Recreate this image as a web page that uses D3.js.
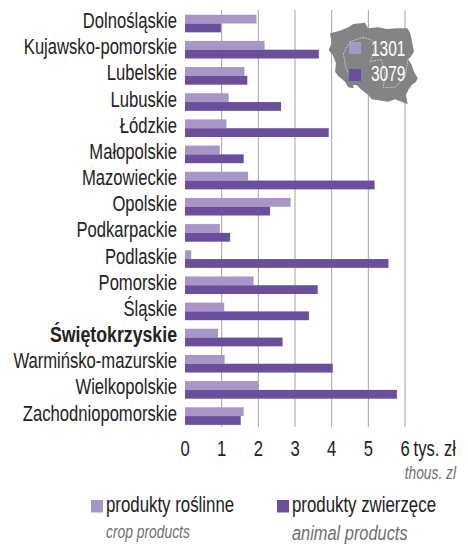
<!DOCTYPE html>
<html lang="pl">
<head>
<meta charset="UTF-8">
<title>Produkty rolne</title>
<script src="https://d3js.org/d3.v7.min.js"></script>
<style>
    body{ margin:0; background:#fff; }
    svg text{ font-family:"Liberation Sans",sans-serif; }
</style>
</head>
<body>
<svg id="chart" width="468" height="544"></svg>
<script>
const regions=['Dolnośląskie','Kujawsko-pomorskie','Lubelskie','Lubuskie','Łódzkie','Małopolskie','Mazowieckie','Opolskie','Podkarpackie','Podlaskie','Pomorskie','Śląskie','Świętokrzyskie','Warmińsko-mazurskie','Wielkopolskie','Zachodniopomorskie'];
const crop=[1.95,2.17,1.62,1.19,1.13,0.95,1.72,2.88,0.95,0.17,1.87,1.07,0.9,1.08,2.0,1.6];
const animal=[0.98,3.65,1.7,2.62,3.92,1.6,5.17,2.32,1.23,5.55,3.62,3.38,2.66,4.03,5.78,1.52];
const xTicks=[0,1,2,3,4,5,6];
const mapValues=['1301','3079'];

const light='#a897c6', dark='#6b4e9e', ink='#222', grey='#6f6f6f';
const svg=d3.select('#chart');

const x=d3.scaleLinear().domain([0,6]).range([185,405]);
const y=d3.scaleBand().domain(regions).range([10.8,428.8]).paddingInner(0.327).paddingOuter(0.15);

// no condensed font is installed, so squeeze the text horizontally
function label(parent,tx,ty,size,squeeze,anchor,fill,str){
    return parent.append('text')
        .attr('transform','translate('+tx+','+ty+') scale('+squeeze+',1)')
        .attr('text-anchor',anchor).attr('font-size',size).attr('fill',fill).text(str);
}

// grid
svg.append('g').selectAll('line').data(xTicks.slice(1)).enter().append('line')
    .attr('x1',d=>x(d)).attr('x2',d=>x(d)).attr('y1',10).attr('y2',427)
    .attr('stroke','#a3a3a3').attr('stroke-width',1);

// bars
const rows=svg.append('g').selectAll('g').data(regions).enter().append('g');
rows.append('rect').attr('x',x(0)).attr('y',d=>y(d))
    .attr('width',(d,i)=>x(crop[i])-x(0)).attr('height',y.bandwidth()/2).attr('fill',light);
rows.append('rect').attr('x',x(0)).attr('y',d=>y(d)+y.bandwidth()/2)
    .attr('width',(d,i)=>x(animal[i])-x(0)).attr('height',y.bandwidth()/2).attr('fill',dark);
rows.each(function(d){
    const bold=d==='Świętokrzyskie';
    label(d3.select(this),177,y(d)+y.bandwidth()/2+4.5,22,bold?0.806:0.755,'end',ink,d)
        .attr('font-weight',bold?'bold':'normal');
});

// axis labels
xTicks.forEach(d=>label(svg,x(d),456,22,0.755,'middle',ink,d));
label(svg,456,456,22,0.755,'end',ink,'tys. zł');
label(svg,456,479,18,0.765,'end',grey,'thous. zl').attr('font-style','italic');

// map inset
const outline=[[30,100],[60,92],[85,82],[100,72],[135,68],[140,78],[145,85],[175,82],[200,87],[230,85],[262,85],[270,98],[275,120],[282,155],[272,170],[265,178],[275,195],[282,215],[293,235],[288,245],[275,255],[265,270],[258,285],[263,313],[245,305],[225,298],[205,305],[190,303],[170,300],[155,298],[145,285],[125,270],[110,255],[100,255],[100,265],[85,262],[75,245],[55,228],[45,215],[48,190],[38,165],[26,150],[35,130]];
const border=[[130,112],[155,120],[165,130],[160,165],[150,185],[185,178],[195,225],[190,262],[225,262],[255,230],[265,175]];
const border2=[[130,112],[90,125],[70,160],[78,205],[85,220]];
const mapX=d3.scaleLinear().domain([0,148*3]).range([320,468]);
const mapY=d3.scaleLinear().domain([0,120*3]).range([0,120]);
const mapLine=d3.line().x(d=>mapX(d[0])).y(d=>mapY(d[1]));
svg.append('path').attr('d',mapLine(outline)+'Z').attr('fill','#838385');
[border,border2].forEach(b=>{
    svg.append('path').attr('d',mapLine(b)).attr('fill','none')
        .attr('stroke','#eee').attr('stroke-width',0.7).attr('stroke-dasharray','1.5 1');
});
[light,dark].forEach((c,i)=>{
    svg.append('rect').attr('x',349).attr('y',42+i*27).attr('width',12).attr('height',12).attr('fill',c);
    label(svg,371,56+i*25,21.5,0.72,'start','#fff',mapValues[i]);
});

// legend
const legend=[
    {c:light,pl:'produkty roślinne',en:'crop products',x:91,enSize:18,enSq:0.77,enY:538},
    {c:dark,pl:'produkty zwierzęce',en:'animal products',x:277,enSize:19.5,enSq:0.84,enY:540}
];
legend.forEach(l=>{
    svg.append('rect').attr('x',l.x).attr('y',500).attr('width',12).attr('height',12.5).attr('fill',l.c);
    label(svg,l.x+15,512,22,0.765,'start',ink,l.pl);
    label(svg,l.x+15,l.enY,l.enSize,l.enSq,'start',grey,l.en).attr('font-style','italic');
});
</script>
</body>
</html>
